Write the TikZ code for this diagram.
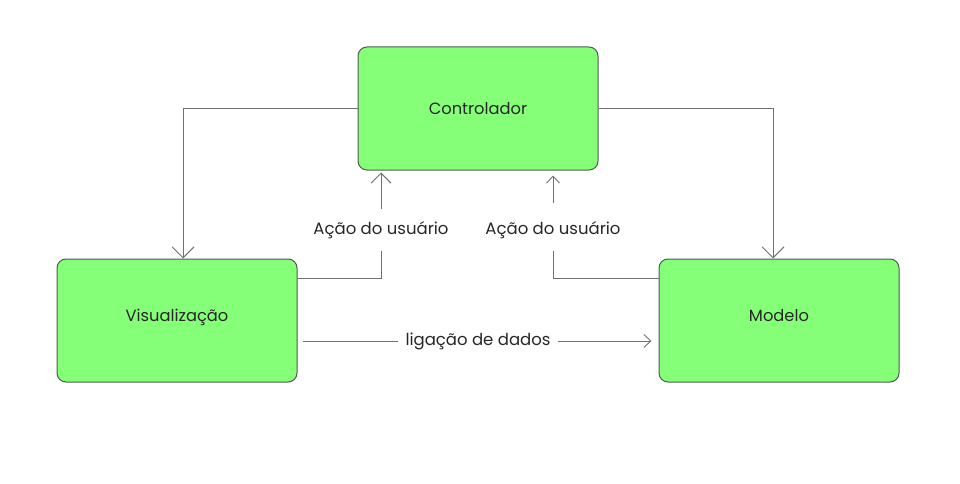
\documentclass[tikz,border=0pt]{standalone}
\usepackage{fontspec}
\setmainfont{Poppins}
\usetikzlibrary{arrows.meta}
\definecolor{boxfill}{HTML}{86FF78}
\definecolor{boxline}{HTML}{505A50}
\definecolor{conncol}{HTML}{707070}
\tikzset{
  box/.style={draw=boxline, line width=1pt, fill=boxfill, rounded corners=9pt,
    minimum width=240pt, minimum height=123pt, inner sep=0pt,
    font=\fontsize{16.3}{18}\selectfont, text=black!85},
  lbl/.style={minimum height=42pt, inner sep=0pt, font=\fontsize{16.5}{18}\selectfont, text=black!85},
  lblh/.style={inner xsep=7pt, inner ysep=0pt, font=\fontsize{16.5}{18}\selectfont, text=black!85},
  conn/.style={draw=conncol, line width=0.9pt},
  arrbig/.style={conn, -{Straight Barb[length=11pt,width=22pt,line width=0.9pt]}},
  arrmid/.style={conn, -{Straight Barb[length=10pt,width=20pt,line width=0.9pt]}},
  arrsmall/.style={conn, -{Straight Barb[length=7pt,width=13pt,line width=0.9pt]}}
}
\begin{document}
\begin{tikzpicture}[x=1pt,y=-1pt]
\useasboundingbox (0,0) rectangle (960,484);
\node[box] (C) at (478,108.5) {Controlador};
\node[box] (V) at (177,320.5) {\raisebox{10pt}{Visualização}};
\node[box] (M) at (779,320.5) {\raisebox{10pt}{Modelo}};
\node[lbl] (a1) at (381,230) {\raisebox{-3pt}{Ação do usuário}};
\node[lbl] (a2) at (553,230) {\raisebox{-3pt}{Ação do usuário}};
\node[lblh] (d) at (478,341) {ligação de dados};
\draw[arrbig] (C.west) -| ([xshift=6pt]V.north);
\draw[arrbig] (C.east) -| ([xshift=-6pt]M.north);
\draw[conn] ([yshift=42.5pt]V.east) -| (a1.south);
\draw[arrmid] (a1.north) -- ([yshift=-2pt]a1.north |- C.south);
\draw[conn] ([yshift=42.5pt]M.west) -| (a2.south);
\draw[arrsmall] ([yshift=6pt]a2.north) -- ([yshift=-5pt]a2.north |- C.south);
\draw[conn] ([xshift=5pt]V.east |- d.west) -- (d.west);
\draw[arrsmall] (d.east) -- ([xshift=-7pt]M.west |- d.east);
\end{tikzpicture}
\end{document}
